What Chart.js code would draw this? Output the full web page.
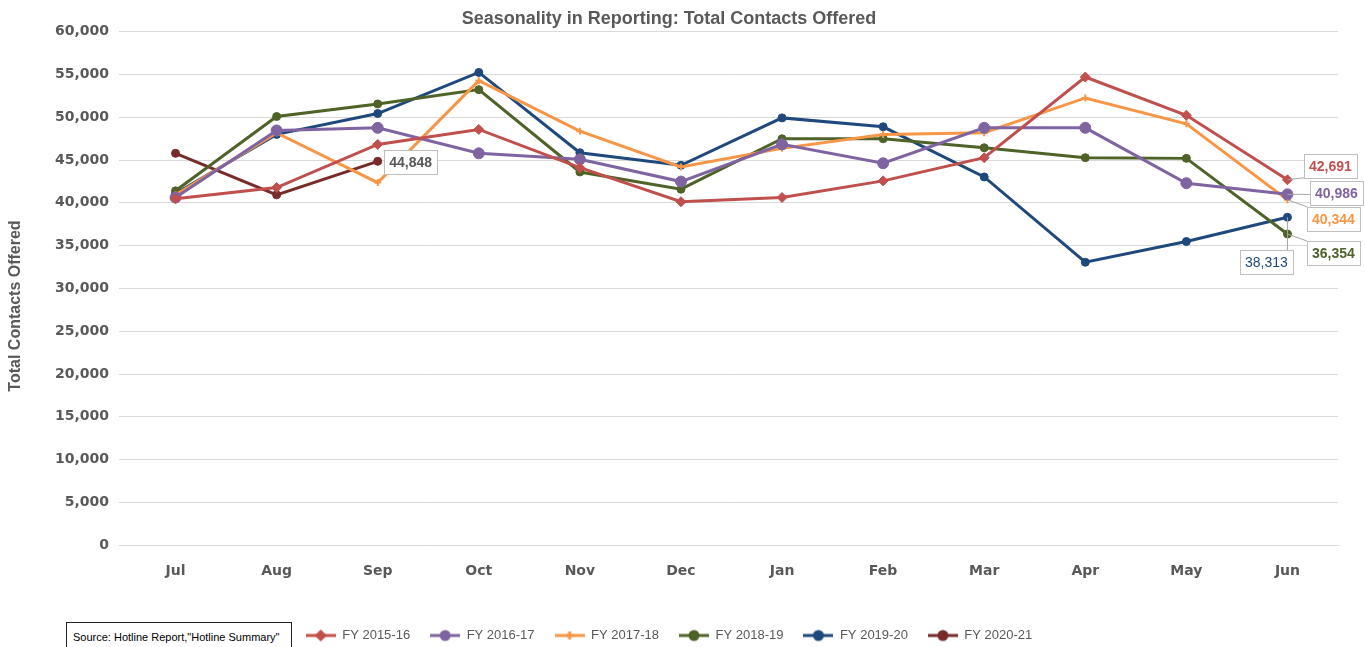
<!DOCTYPE html>
<html><head><meta charset="utf-8">
<script src="https://cdn.jsdelivr.net/npm/chart.js@4/dist/chart.umd.min.js"></script>
<style>
html,body{margin:0;padding:0;background:#fff;overflow:hidden}
#wrap{position:relative;width:1365px;height:647px}
#src{position:absolute;left:66px;top:622px;width:226px;height:30px;border:1px solid #222;background:#fff;
font:11px 'Liberation Sans Narrow','Liberation Sans',sans-serif;color:#000;box-sizing:border-box;padding:8px 0 0 6px;white-space:nowrap}
</style></head>
<body><div id="wrap"><canvas id="c" width="1365" height="647"></canvas>
<div id="src">Source: Hotline Report,"Hotline Summary"</div></div>
<script>
const categories = ['Jul','Aug','Sep','Oct','Nov','Dec','Jan','Feb','Mar','Apr','May','Jun'];
const seriesNames = ['FY 2015-16','FY 2016-17','FY 2017-18','FY 2018-19','FY 2019-20','FY 2020-21'];
const fy1516 = [40470, 41780, 46820, 48570, 44100, 40120, 40620, 42560, 45270, 54690, 50230, 42691];
const fy1617 = [40620, 48450, 48760, 45780, 45080, 42480, 46830, 44620, 48760, 48760, 42290, 40986];
const fy1718 = [40930, 48170, 42360, 54270, 48370, 44190, 46360, 47990, 48180, 52250, 49230, 40344];
const fy1819 = [41400, 50080, 51550, 53220, 43600, 41590, 47480, 47480, 46430, 45270, 45190, 36354];
const fy1920 = [41080, 47990, 50430, 55230, 45850, 44380, 49920, 48880, 43020, 33060, 35470, 38313];
const fy2021 = [45780, 40930, 44848, null, null, null, null, null, null, null, null, null];
const yMin = 0, yMax = 60000, yStep = 5000;
const yAxisTitle = 'Total Contacts Offered';

const seriesData = [fy1516, fy1617, fy1718, fy1819, fy1920, fy2021];
const colors = ['#C0504D','#8064A2','#F79646','#4F6228','#1F497D','#772C2A'];
const markers = ['rectRot','circle','cross','circle','circle','circle'];
const radii = [5, 5.5, 3.5, 4, 4, 4];

// data label styling (dataset index, point index, offset of box centre, text colour, weight)
const labelStyles = [
  {ds:5, i:2, dx:33, dy:1, color:'#595959', bold:true},
  {ds:0, i:11, dx:43, dy:-14, color:'#C0504D', bold:true},
  {ds:1, i:11, dx:49, dy:-1, color:'#8064A2', bold:true},
  {ds:2, i:11, dx:46, dy:19, color:'#F79646', bold:true},
  {ds:3, i:11, dx:46, dy:19, color:'#4F6228', bold:true},
  {ds:4, i:11, dx:-21, dy:45, color:'#1F497D', bold:false}
];

function legendIcon(color, style, r){
  const c = document.createElement('canvas');
  c.width = 30; c.height = 14;
  const x = c.getContext('2d');
  x.strokeStyle = color; x.lineWidth = 3;
  x.beginPath(); x.moveTo(0,7); x.lineTo(30,7); x.stroke();
  x.fillStyle = color;
  Chart.helpers.drawPoint(x, {pointStyle: style, radius: r, borderWidth: 2}, 15, 7);
  return c;
}

const labelPlugin = {
  id:'dlabels',
  afterDraw(chart){
    const ctx = chart.ctx;
    ctx.save();
    ctx.translate(16, 306); ctx.rotate(-Math.PI/2);
    ctx.font = 'bold 16px "Liberation Sans", sans-serif';
    ctx.fillStyle = '#595959'; ctx.textAlign = 'center'; ctx.textBaseline = 'middle';
    ctx.fillText(yAxisTitle, 0, 0);
    ctx.restore();
    ctx.save();
    labelStyles.forEach(s=>{
      const v = seriesData[s.ds][s.i];
      const px = chart.scales.x.getPixelForValue(s.i);
      const py = chart.scales.y.getPixelForValue(v);
      const txt = v.toLocaleString('en-US');
      ctx.font = (s.bold?'bold ':'') + '14px "Liberation Sans", sans-serif';
      const w = ctx.measureText(txt).width + 10, h = 24;
      const cx = px + s.dx, cy = py + s.dy;
      const bx = Math.max(cx - w/2, Math.min(px, cx + w/2));
      const by = Math.max(cy - h/2, Math.min(py, cy + h/2));
      if (Math.hypot(bx-px, by-py) > 8){
        ctx.strokeStyle = '#A6A6A6'; ctx.lineWidth = 1;
        ctx.beginPath(); ctx.moveTo(px,py); ctx.lineTo(bx,by); ctx.stroke();
      }
      ctx.fillStyle = '#fff';
      ctx.fillRect(cx-w/2, cy-h/2, w, h);
      ctx.strokeStyle = '#BFBFBF'; ctx.lineWidth = 1;
      ctx.strokeRect(Math.round(cx-w/2)+0.5, Math.round(cy-h/2)+0.5, Math.round(w), h);
      ctx.fillStyle = s.color; ctx.textAlign='center'; ctx.textBaseline='middle';
      ctx.fillText(txt, cx, cy+1);
    });
    ctx.restore();
  }
};

new Chart(document.getElementById('c'), {
  type:'line',
  data:{
    labels: categories,
    datasets: seriesNames.map((n,k)=>({
      label:n, data:seriesData[k], borderColor:colors[k], backgroundColor:colors[k],
      borderWidth:3, pointStyle:markers[k], pointRadius:radii[k], pointBorderWidth:k===2?2:1,
      pointBackgroundColor:colors[k], pointBorderColor:colors[k], tension:0, spanGaps:false
    }))
  },
  options:{
    responsive:false, animation:false, devicePixelRatio:1,
    layout:{padding:{left:0,right:27,top:0,bottom:-5}},
    plugins:{
      title:{display:true, text:'Seasonality in Reporting: Total Contacts Offered', color:'#595959',
        font:{family:'"Liberation Sans", sans-serif', size:18, weight:'bold'}, padding:{top:8,bottom:2}},
      legend:{position:'bottom', labels:{usePointStyle:true, pointStyleWidth:30, boxHeight:13, padding:20,
        color:'#595959', font:{family:'"Liberation Sans Narrow","Liberation Sans", sans-serif', size:13},
        generateLabels(chart){
          return chart.data.datasets.map((d,k)=>({text:d.label, pointStyle:legendIcon(colors[k],markers[k],4),
            fillStyle:colors[k], strokeStyle:colors[k], lineWidth:0, datasetIndex:k, hidden:false, fontColor:'#595959'}));
        }}},
      tooltip:{enabled:false}
    },
    scales:{
      x:{offset:true, grid:{display:false}, border:{color:'#D9D9D9'},
        ticks:{color:'#595959', padding:10, font:{family:'"DejaVu Sans", sans-serif', size:14, weight:'bold'}},
        afterFit(s){ s.height += 19; }},
      y:{min:yMin, max:yMax, grid:{color:'#D9D9D9', drawTicks:true, tickLength:6}, border:{display:false},
        ticks:{stepSize:yStep, color:'#595959', padding:10, font:{family:'"DejaVu Sans", sans-serif', size:14, weight:'bold'},
          callback:v=>v.toLocaleString('en-US')},
        afterFit(s){ s.width = 125; }
      }
    }
  },
  plugins:[labelPlugin]
});
</script></body></html>
